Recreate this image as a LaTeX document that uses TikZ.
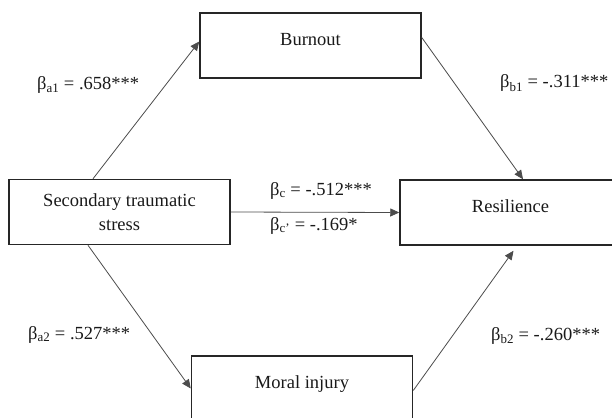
\documentclass[tikz,border=0pt]{standalone}
\usepackage{fontspec}
\setmainfont{Liberation Serif}
\usepackage{tikz}
\usetikzlibrary{positioning,arrows.meta}

\begin{document}
\begin{tikzpicture}[x=1pt,y=-1pt,
	font=\fontsize{18.5}{24}\selectfont,
	varbox/.style={draw=black!85, line width=1.5pt, minimum width=221pt, minimum height=65pt, inner sep=0pt, text=black!90},
	oneline/.style={varbox, text height=13pt, text depth=13pt},
	effect/.style={draw=black!70, line width=0.8pt, -{Triangle[length=9pt,width=8pt]}},
	coef/.style={anchor=base west, inner sep=0pt, text=black!90}]
	
	\clip (0,0) rectangle (612,417);
	
	\node[varbox, align=center] (sts) at (119.5,212) {Secondary traumatic\\stress};
	\node[oneline] (burnout) at (310.5,45.5) {Burnout};
	\node[oneline] (resil) at (510.5,212.5) {Resilience};
	\node[oneline] (moral) at (302,388.5) {Moral injury};
	
	\draw[effect] ([xshift=-26.5pt]sts.north) -- ([yshift=4pt]burnout.west);
	\draw[effect] ([yshift=8pt]burnout.east) -- ([xshift=12.5pt]resil.north);
	\draw[effect] (sts.east) -- (resil.west);
	\draw[effect] ([xshift=-31.5pt]sts.south) -- (moral.west);
	\draw[effect] ([yshift=-2pt]moral.east) -- ([xshift=3pt,yshift=-5pt]resil.south);
	
	\node[coef] (a1) at (37,90) {β\textsubscript{a1} = .658***};
	\node[coef] (b1) at (500,88) {β\textsubscript{b1} = -.311***};
	\node[coef] (c) at (270,195) {β\textsubscript{c} = -.512***};
	\node[coef] (cp) at (270,230) {β\textsubscript{c'} = -.169*};
	\node[coef] (a2) at (28,339) {β\textsubscript{a2} = .527***};
	\node[coef] (b2) at (491,340) {β\textsubscript{b2} = -.260***};
	
\end{tikzpicture}
\end{document}
